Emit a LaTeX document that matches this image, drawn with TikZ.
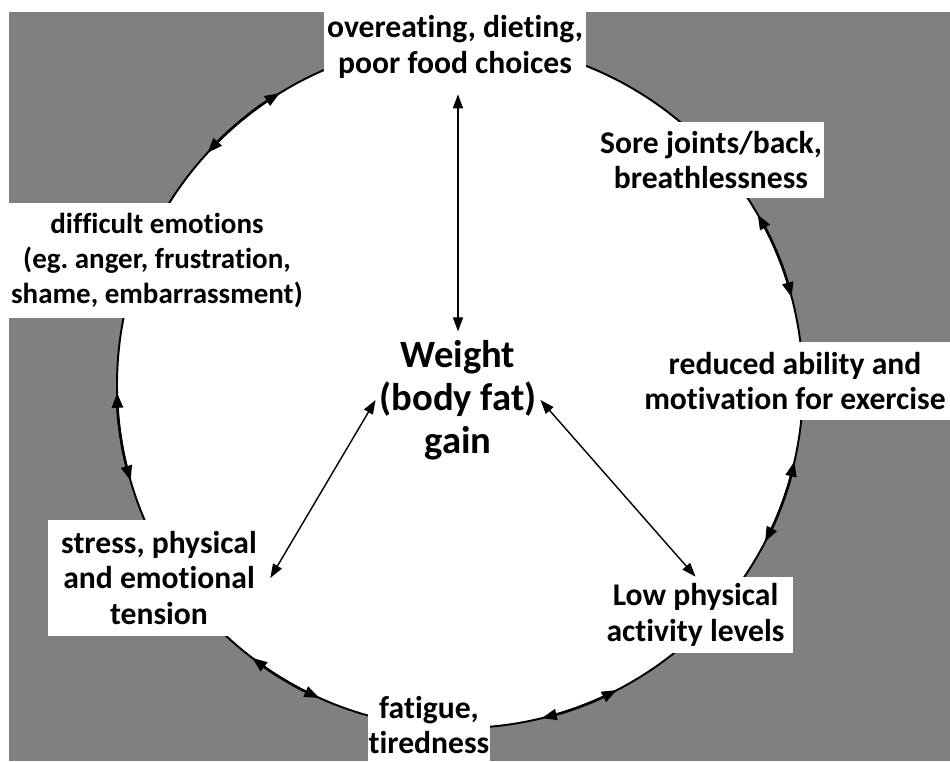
\documentclass[tikz,border=0pt]{standalone}
\usepackage{fontspec}
\setmainfont{Carlito}[Ligatures=NoCommon]
\usetikzlibrary{arrows.meta}
\definecolor{backgray}{RGB}{128,128,128}
\tikzset{
        % Label boxes sitting on the ring
        node_label/.style={align=center, inner sep=0pt, fill=white, font=\bfseries\fontsize{18}{20.4}\selectfont},
        % Text in the middle
        node_centre/.style={align=center, inner sep=2pt, font=\bfseries\fontsize{22}{24.4}\selectfont},
        % Straight arrows from the middle
        link_arrow/.style={{Triangle[length=0.28cm,width=0.2cm]}-{Triangle[length=0.28cm,width=0.2cm]}, line width=0.8pt},
        % Arrows along the ring
        ring_arrow/.style={{Triangle[length=0.3cm,width=0.22cm]}-{Triangle[length=0.3cm,width=0.22cm]}, line width=1.4pt}
}

\begin{document}
\begin{tikzpicture}[x=0.02cm, y=0.02cm]
    \useasboundingbox (0,0) rectangle (950,761);
    \fill[backgray] (9,0) rectangle (950,749);
    \coordinate (hub) at (460,376);
    \draw[fill=white, line width=1.1pt] (hub) circle[radius=343];
    % arrows on the ring
    \foreach \a/\b in {137.4/121.7, 14.8/29.8, 181.3/196.2, 232.7/245.8, 283.8/297.2, 332.8/347.1}
        \draw[ring_arrow] ([shift={(\a:343)}]hub) arc[start angle=\a, end angle=\b, radius=343];
    % boxes
    \node[node_label, minimum width=5.26cm, minimum height=1.88cm] (food) at (455,714) {overeating, dieting,\\poor food choices};
    \node[node_label, minimum width=4.52cm, minimum height=1.52cm] (sore) at (711,601) {Sore joints/back,\\breathlessness};
    \node[node_label, minimum width=6.02cm, minimum height=2.3cm, font=\bfseries\fontsize{16.5}{20}\selectfont] (emotions) at (157,500.5) {difficult emotions\\(eg.\ anger, frustration,\\shame, embarrassment)};
    \node[node_label, minimum width=6.2cm, minimum height=1.56cm] (reduced) at (795,380) {reduced ability and\\motivation for exercise};
    \node[node_label, minimum width=4.44cm, minimum height=2.32cm] (stress) at (159,183) {stress, physical\\and emotional\\tension};
    \node[node_label, minimum width=2.44cm, minimum height=1.6cm] (fatigue) at (429,36) {fatigue,\\tiredness};
    \node[node_label, minimum width=3.9cm, minimum height=1.52cm] (low) at (695.5,146) {Low physical\\activity levels};
    \node[node_centre] (weight) at (458,361) {Weight\\(body fat)\\gain};
    % arrows from the middle
    \draw[link_arrow, shorten >=0.1cm] (weight.north |- food.south) -- (weight.north);
    \draw[link_arrow] (weight.west) -- (stress.east);
    \draw[link_arrow] (weight.east) -- (low.north);
\end{tikzpicture}
\end{document}
